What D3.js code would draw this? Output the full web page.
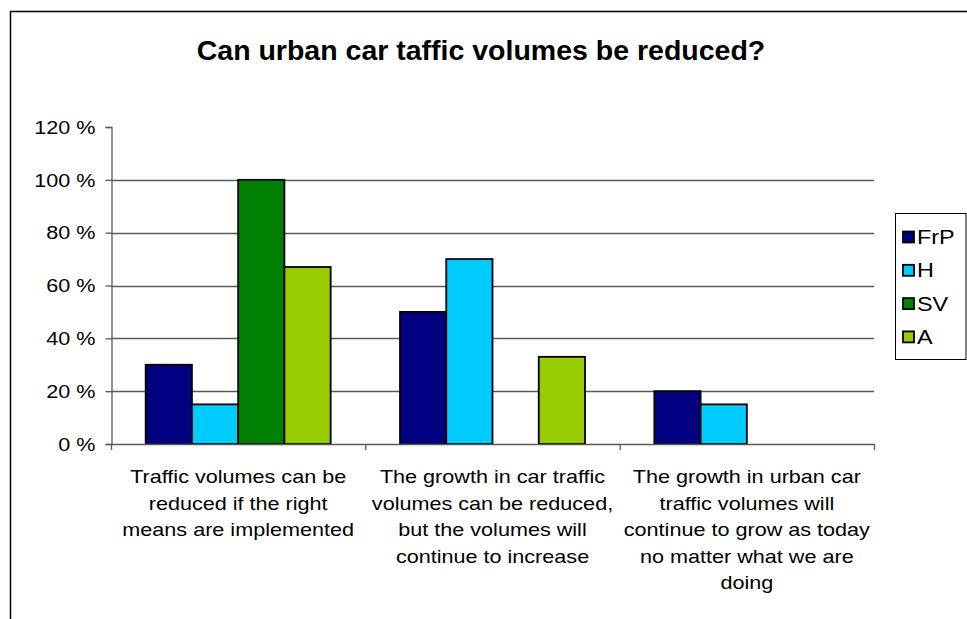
<!DOCTYPE html>
<html>
<head>
<meta charset="utf-8">
<script src="https://cdn.jsdelivr.net/npm/d3@7"></script>
<style>
  html, body { margin: 0; padding: 0; background: #fff; }
  svg { display: block; }
  text { font-family: "Liberation Sans", Arial, sans-serif; fill: #000; }
</style>
</head>
<body>
<svg id="chart" width="967" height="619"></svg>
<script>
// Survey answers per party (share of respondents, %)
const categories = [
  ["Traffic volumes can be", "reduced if the right", "means are implemented"],
  ["The growth in car traffic", "volumes can be reduced,", "but the volumes will", "continue to increase"],
  ["The growth in urban car", "traffic volumes will", "continue to grow as today", "no matter what we are", "doing"]
];
const seriesNames = ["FrP", "H", "SV", "A"];
const seriesColors = ["#000080", "#00CCFF", "#008000", "#99CC00"];
const FrP = [30, 50, 20];
const H = [15, 70, 15];
const SV = [100, 0, 0];
const A = [67, 33, 0];
const yTicks = [0, 20, 40, 60, 80, 100, 120];
const title = "Can urban car taffic volumes be reduced?";

const values = [FrP, H, SV, A];
const svg = d3.select("#chart");
const SX = 1.2; // horizontal stretch of the label type

const plot = { left: 111, right: 874, top: 127, bottom: 444 };

// Outer chart frame
svg.append("rect")
  .attr("x", 10.5).attr("y", 11.5)
  .attr("width", 1000).attr("height", 700)
  .attr("fill", "#fff").attr("stroke", "#000").attr("stroke-width", 1.5);

svg.append("text")
  .attr("x", 481).attr("y", 60)
  .attr("text-anchor", "middle")
  .attr("font-size", 28.5).attr("font-weight", "bold")
  .text(title);

const x0 = d3.scaleBand().domain(d3.range(categories.length))
  .range([plot.left, plot.right]).paddingInner(0).paddingOuter(0);
// bars fill the middle of each category, 1.5 bar widths of gap split on both sides
const x1 = d3.scaleBand().domain(d3.range(seriesNames.length))
  .range([0, x0.bandwidth()]).paddingInner(0).paddingOuter(0.75);
const y = d3.scaleLinear().domain([0, 120]).range([plot.bottom, plot.top]);

// Gridlines
svg.append("g").selectAll("line")
  .data(yTicks.filter(t => t > 0 && t < 120))
  .join("line")
  .attr("x1", plot.left).attr("x2", plot.right)
  .attr("y1", d => Math.round(y(d)) + 0.5).attr("y2", d => Math.round(y(d)) + 0.5)
  .attr("stroke", "#5a5a5a").attr("stroke-width", 1.3);

// Y axis
const yAxis = svg.append("g").attr("transform", `translate(${plot.left + 0.5},0)`)
  .call(d3.axisLeft(y).tickValues(yTicks).tickSize(6).tickFormat(d => d + " %"));
yAxis.select(".domain").attr("stroke", "#5a5a5a").attr("stroke-width", 1.3);
yAxis.selectAll(".tick line").attr("stroke", "#5a5a5a").attr("stroke-width", 1.3);
yAxis.selectAll(".tick text")
  .attr("font-size", 18).attr("font-family", "Liberation Sans, Arial, sans-serif")
  .attr("fill", "#000").attr("x", 0).attr("dy", "0.35em")
  .attr("transform", `translate(-16,0) scale(${SX},1)`);

// Bars
const groups = svg.append("g").selectAll("g")
  .data(categories.map((c, i) => i))
  .join("g")
  .attr("transform", i => `translate(${x0(i)},0)`);
groups.selectAll("rect")
  .data(i => values.map((s, k) => ({ k, v: s[i] })).filter(d => d.v > 0))
  .join("rect")
  .attr("x", d => x1(d.k))
  .attr("y", d => y(d.v))
  .attr("width", x1.bandwidth())
  .attr("height", d => y(0) - y(d.v))
  .attr("fill", d => seriesColors[d.k])
  .attr("stroke", "#000").attr("stroke-width", 1.8);

// X axis line and category ticks
svg.append("line")
  .attr("x1", plot.left).attr("x2", plot.right)
  .attr("y1", plot.bottom + 0.5).attr("y2", plot.bottom + 0.5)
  .attr("stroke", "#5a5a5a").attr("stroke-width", 1.3);
svg.append("g").selectAll("line")
  .data(d3.range(categories.length + 1))
  .join("line")
  .attr("x1", i => (i < categories.length ? x0(i) : plot.right) + 0.5)
  .attr("x2", i => (i < categories.length ? x0(i) : plot.right) + 0.5)
  .attr("y1", plot.bottom).attr("y2", plot.bottom + 6)
  .attr("stroke", "#5a5a5a").attr("stroke-width", 1.3);

// Category labels
categories.forEach((lines, i) => {
  const cx = x0(i) + x0.bandwidth() / 2;
  const t = svg.append("text")
    .attr("text-anchor", "middle").attr("font-size", 18)
    .attr("transform", `translate(${cx},${plot.bottom + 39}) scale(${SX},1)`);
  lines.forEach((ln, j) => {
    t.append("tspan").attr("x", 0).attr("y", j * 26.6).text(ln);
  });
});

// Legend
const lg = svg.append("g");
lg.append("rect")
  .attr("x", 895.5).attr("y", 213.5).attr("width", 70.5).attr("height", 146)
  .attr("fill", "#fff").attr("stroke", "#000").attr("stroke-width", 1);
seriesNames.forEach((name, k) => {
  const cy = 237 + k * 33.3;
  lg.append("rect")
    .attr("x", 903).attr("y", cy - 5.5).attr("width", 11).attr("height", 11)
    .attr("fill", seriesColors[k]).attr("stroke", "#000").attr("stroke-width", 1.8);
  lg.append("text")
    .attr("font-size", 19.5).attr("dy", "0.36em")
    .attr("transform", `translate(917,${cy}) scale(${SX},1)`)
    .text(name);
});
</script>
</body>
</html>
